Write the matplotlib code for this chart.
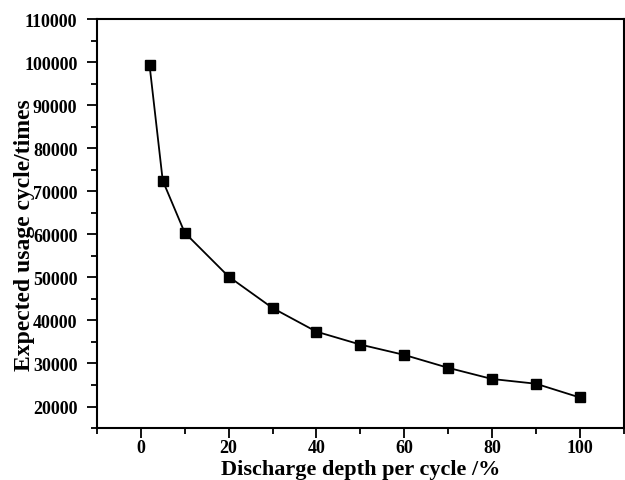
import matplotlib
matplotlib.use("Agg")
import matplotlib.pyplot as plt
from matplotlib.ticker import MultipleLocator

plt.rcParams['font.family'] = ['Liberation Serif', 'DejaVu Serif']
plt.rcParams['font.weight'] = 'bold'
plt.rcParams['font.size'] = 13

# discharge depth (%) vs expected usage cycles
depth = [2, 5, 10, 20, 30, 40, 50, 60, 70, 80, 90, 100]
cycles = [99300, 72500, 60400, 50200, 42900, 37400, 34400, 32000, 29000, 26400, 25300, 22100]

fig = plt.figure(figsize=(6.25, 4.81), dpi=100)
ax = fig.add_axes([0.155, 0.108, 0.843, 0.85])

ax.plot(depth, cycles, color='black', linewidth=1.3, marker='s',
        markersize=6.5, markerfacecolor='black')

ax.set_xlim(-10, 110)
ax.set_ylim(15000, 110000)
ax.xaxis.set_major_locator(MultipleLocator(20))
ax.xaxis.set_minor_locator(MultipleLocator(10))
ax.yaxis.set_major_locator(MultipleLocator(10000))
ax.yaxis.set_minor_locator(MultipleLocator(5000))

ax.tick_params(which='both', direction='out', top=False, right=False, width=1.3)
ax.tick_params(which='major', length=7)
ax.tick_params(axis='y', which='major', pad=7)
ax.tick_params(axis='x', which='major', pad=1)
ax.tick_params(which='minor', length=4)
for s in ax.spines.values():
    s.set_linewidth(1.5)

ax.set_xlabel('Discharge depth per cycle /%', fontsize=16, fontweight='bold')
ax.set_ylabel('Expected usage cycle/times', fontsize=17, fontweight='bold')
ax.xaxis.set_label_coords(0.5, -0.076)
ax.yaxis.set_label_coords(-0.118, 0.475)

fig.savefig('out.png', dpi=100)
